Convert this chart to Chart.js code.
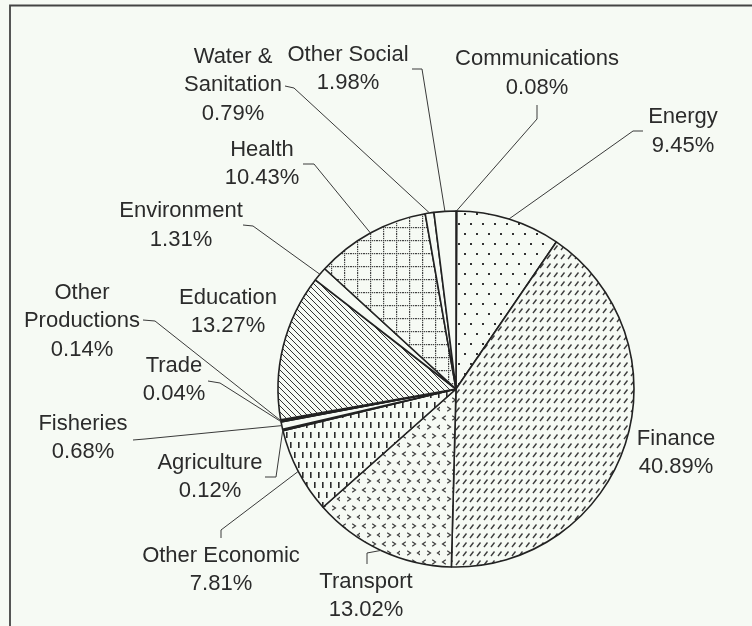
<!DOCTYPE html>
<html>
<head>
<meta charset="utf-8">
<script src="https://cdn.jsdelivr.net/npm/chart.js@4/dist/chart.umd.min.js"></script>
<style>
  html, body { margin: 0; padding: 0; background: #f6faf4; }
  canvas { display: block; }
</style>
</head>
<body>
<canvas id="c" width="752" height="626"></canvas>
<script>
// ---- data ----
const categories = ['Communications','Energy','Finance','Transport','Other Economic','Agriculture','Fisheries','Trade','Other Productions','Education','Environment','Health','Water & Sanitation','Other Social'];
const shares = [0.08, 9.45, 40.89, 13.02, 7.81, 0.12, 0.68, 0.04, 0.14, 13.27, 1.31, 10.43, 0.79, 1.98];
const labelLines = [['Communications'],['Energy'],['Finance'],['Transport'],['Other Economic'],['Agriculture'],['Fisheries'],['Trade'],['Other','Productions'],['Education'],['Environment'],['Health'],['Water &','Sanitation'],['Other Social']];

// ---- layout (label placement, leader elbows) ----
const labelPos = [[537,57.5],[683,115.5],[676,437],[366,580],[221,554],[210,461],[83,422],[174,364],[82,291],[228,296],[181,209.5],[262,148],[233,55],[348,53]];
const leaderElbow = [[537,119],[633,131],null,[367,553],[221,530],[276,477],[145,439],[220,383],[155,321],null,[253,226],[314,164],[294,88],[422,69]];
const leaderEnd = [[537,105],[643,131],null,[367,564],[221,538],[265,477],[133,440],[208,381],[143,320],null,[243,225],[303,164],[285,86],[412,69]];

const BG = '#f6faf4';
const INK = '#2b2b2b';

function makePattern(w, h, draw) {
  const c = document.createElement('canvas');
  c.width = w; c.height = h;
  const x = c.getContext('2d');
  x.fillStyle = BG; x.fillRect(0, 0, w, h);
  draw(x);
  return x.createPattern(c, 'repeat');
}
const dots = makePattern(12, 20, x => {
  x.fillStyle = '#333';
  x.fillRect(2, 3, 2, 2);
  x.fillRect(8, 13, 2, 2);
});
const slashes = makePattern(7, 9, x => {
  x.strokeStyle = '#3c3c3c'; x.lineWidth = 1.4;
  x.beginPath(); x.moveTo(1, 7); x.lineTo(4.5, 2.5); x.stroke();
});
const chevrons = makePattern(20, 18, x => {
  x.strokeStyle = '#3c3c3c'; x.lineWidth = 1.2;
  function lt(cx, cy){ x.beginPath(); x.moveTo(cx+1.8, cy-2.2); x.lineTo(cx-1.5, cy); x.lineTo(cx+1.8, cy+2.2); x.stroke(); }
  function gt(cx, cy){ x.beginPath(); x.moveTo(cx-1.8, cy-2.2); x.lineTo(cx+1.5, cy); x.lineTo(cx-1.8, cy+2.2); x.stroke(); }
  lt(4, 4); gt(14, 4); gt(9, 13); lt(19, 13);
});
const vdash = makePattern(8, 20, x => {
  x.fillStyle = '#2a2a2a';
  x.fillRect(2, 2, 1.6, 6);
  x.fillRect(6, 12, 1.6, 6);
});
const diag = makePattern(6, 6, x => {
  x.strokeStyle = '#333'; x.lineWidth = 1;
  x.beginPath();
  x.moveTo(-1, -1); x.lineTo(7, 7);
  x.moveTo(-1, 5); x.lineTo(1, 7);
  x.moveTo(5, -1); x.lineTo(7, 1);
  x.stroke();
});
const grid = makePattern(13, 13, x => {
  x.fillStyle = '#444';
  for (let i = 0; i < 13; i += 2) { x.fillRect(i, 6, 1.2, 1.2); x.fillRect(6, i, 1.2, 1.2); }
});
const fills = [BG, dots, slashes, chevrons, vdash, BG, BG, '#333', '#333', diag, BG, grid, BG, BG];

const framePlugin = {
  id: 'frame',
  beforeDraw(chart) {
    const ctx = chart.ctx;
    ctx.save();
    ctx.fillStyle = BG; ctx.fillRect(0, 0, chart.width, chart.height);
    ctx.strokeStyle = '#444'; ctx.lineWidth = 1.8;
    ctx.beginPath(); ctx.moveTo(10, 640); ctx.lineTo(10, 5.5); ctx.lineTo(760, 5.5); ctx.stroke();
    ctx.restore();
  }
};

const labelPlugin = {
  id: 'labels',
  afterDatasetsDraw(chart) {
    const ctx = chart.ctx;
    const meta = chart.getDatasetMeta(0);
    const fs = 22, lh = 28.5;
    ctx.save();
    ctx.strokeStyle = '#3a3a3a'; ctx.lineWidth = 1;
    meta.data.forEach((arc, i) => {
      const p = arc.getProps(['x','y','startAngle','endAngle','outerRadius'], true);
      if (leaderElbow[i]) {
        const a = (p.startAngle + p.endAngle) / 2;
        const sx = p.x + Math.cos(a) * p.outerRadius;
        const sy = p.y + Math.sin(a) * p.outerRadius;
        ctx.beginPath();
        ctx.moveTo(sx, sy);
        ctx.lineTo(leaderElbow[i][0], leaderElbow[i][1]);
        ctx.lineTo(leaderEnd[i][0], leaderEnd[i][1]);
        ctx.stroke();
      }
    });
    ctx.fillStyle = INK;
    ctx.font = fs + 'px "Liberation Sans", Arial, sans-serif';
    ctx.textAlign = 'center';
    ctx.textBaseline = 'alphabetic';
    categories.forEach((c, i) => {
      const lines = labelLines[i].concat([shares[i].toFixed(2) + '%']);
      lines.forEach((t, k) => {
        ctx.fillText(t, labelPos[i][0], labelPos[i][1] + k * lh + fs * 0.358);
      });
    });
    ctx.restore();
  }
};

new Chart(document.getElementById('c'), {
  type: 'pie',
  data: {
    labels: categories,
    datasets: [{
      data: shares,
      backgroundColor: fills,
      borderColor: '#222',
      borderWidth: 1.6
    }]
  },
  options: {
    responsive: false,
    animation: false,
    radius: 178,
    layout: { padding: { left: 278, right: 118, top: 211, bottom: 59 } },
    plugins: { legend: { display: false }, tooltip: { enabled: false } }
  },
  plugins: [framePlugin, labelPlugin]
});
</script>
</body>
</html>
